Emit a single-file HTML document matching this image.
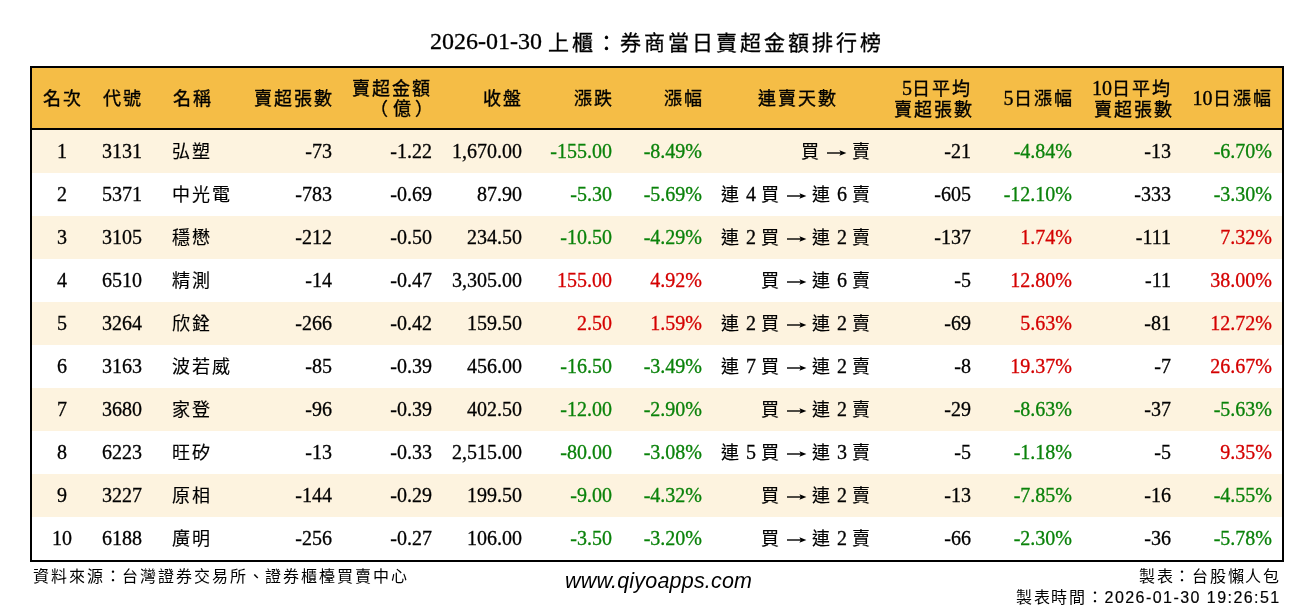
<!DOCTYPE html><html lang="zh-TW"><head><meta charset="utf-8"><title>券商當日賣超金額排行榜</title><style>
*{margin:0;padding:0;box-sizing:border-box}
html,body{width:1314px;height:612px;overflow:hidden;background:#fff}
body{position:relative;font-family:"Liberation Serif",serif;color:#000;text-spacing-trim:space-all}
.t{position:absolute;white-space:nowrap}
#title{position:absolute;left:0;top:24px;width:1314px;text-align:center;font-size:24px;line-height:34px;-webkit-text-stroke:0.3px #000}
#title .k{font-size:21px;letter-spacing:3px;position:relative;top:0.5px}
#tbl{position:absolute;left:30px;top:66px;width:1254px;height:496px;border:2px solid #000;background:#fff}
#hd{position:absolute;left:32px;top:68px;width:1250px;height:60px;background:#f5bd46}
#ov{position:absolute;left:0;top:0;width:1314px;height:612px;will-change:transform}
#hl{position:absolute;left:32px;top:128px;width:1250px;height:2px;background:#000}
.st{position:absolute;left:32px;width:1250px;height:43px;background:#fdf3df}
.c{font-size:20px;line-height:43px;height:43px;-webkit-text-stroke:0.3px currentColor}
.h{font-size:20px;line-height:20px;-webkit-text-stroke:0.35px #000}
.k{font-size:18px;letter-spacing:2px}
.c .k{-webkit-text-stroke:0.15px #000}
.r .k:last-child{margin-right:-2px}
.ar{display:inline-block;vertical-align:1px;margin:0 1px;overflow:visible}
#f1{left:33px;top:567px;font-size:16px;line-height:20px;letter-spacing:1.88px}
#f2{left:565px;top:570px;font-family:"Liberation Sans",sans-serif;font-style:italic;font-size:21.5px;line-height:22px;letter-spacing:0.2px}
#f3{right:35px;top:567px;font-size:16px;line-height:20px;letter-spacing:1.7px;text-align:right}
#f4{right:35px;top:588px;font-size:16px;line-height:20px;letter-spacing:1.7px;text-align:right}
#f3 .x,#f4 .x{margin-right:-1.7px}
.sans{font-family:"Liberation Sans",sans-serif;letter-spacing:1.45px;-webkit-text-stroke:0.2px #000}
</style></head><body>
<div id="tbl"></div><div id="hd"></div><div id="hl"></div>
<div class="st" style="top:130px"></div>
<div class="st" style="top:216px"></div>
<div class="st" style="top:302px"></div>
<div class="st" style="top:388px"></div>
<div class="st" style="top:474px"></div>
<div id="ov">
<div id="title">2026-01-30 <span class="k">上櫃：券商當日賣超金額排行榜</span></div>
<div class="t h" style="top:88px;left:2.5px;width:120px;text-align:center;"><span class="k">名次</span></div>
<div class="t h" style="top:88px;left:62.5px;width:120px;text-align:center;"><span class="k">代號</span></div>
<div class="t h" style="top:88px;left:172.5px;"><span class="k">名稱</span></div>
<div class="t h r" style="top:88px;right:982px;text-align:right;"><span class="k">賣超張數</span></div>
<div class="t h r" style="top:78px;right:882px;text-align:right;"><span class="k">賣超金額</span><br><span class="k" style="letter-spacing:4.3px;margin-right:-5.3px;position:relative;top:-1.5px">（億）</span></div>
<div class="t h r" style="top:88px;right:793.3px;text-align:right;"><span class="k">收盤</span></div>
<div class="t h r" style="top:88px;right:702px;text-align:right;"><span class="k">漲跌</span></div>
<div class="t h r" style="top:88px;right:612.5px;text-align:right;"><span class="k">漲幅</span></div>
<div class="t h" style="top:88px;left:738px;width:120px;text-align:center;"><span class="k">連賣天數</span></div>
<div class="t h r" style="top:78px;right:342px;text-align:right;">5<span class="k">日平均</span><br><span class="k">賣超張數</span></div>
<div class="t h r" style="top:88px;right:242.5px;text-align:right;">5<span class="k">日漲幅</span></div>
<div class="t h r" style="top:78px;right:142px;text-align:right;">10<span class="k">日平均</span><br><span class="k">賣超張數</span></div>
<div class="t h r" style="top:88px;right:43.5px;text-align:right;">10<span class="k">日漲幅</span></div>
<div class="t c" style="top:130px;left:2px;width:120px;text-align:center;">1</div>
<div class="t c" style="top:130px;left:62px;width:120px;text-align:center;">3131</div>
<div class="t c" style="top:130px;left:172px;"><span class="k">弘塑</span></div>
<div class="t c r" style="top:130px;right:982px;text-align:right;">-73</div>
<div class="t c r" style="top:130px;right:882px;text-align:right;">-1.22</div>
<div class="t c r" style="top:130px;right:792px;text-align:right;">1,670.00</div>
<div class="t c r" style="top:130px;right:702px;text-align:right;color:#0a820a;">-155.00</div>
<div class="t c r" style="top:130px;right:612px;text-align:right;color:#0a820a;">-8.49%</div>
<div class="t c r" style="top:130px;right:444px;text-align:right;"><span class="k">買</span> <svg class="ar" width="19" height="8" viewBox="0 0 19 8" overflow="visible"><path d="M0 4H16" stroke="currentColor" stroke-width="1.4"/><path d="M12.4 1.3L19.4 4L12.4 6.7L13.8 4Z" fill="currentColor"/></svg> <span class="k">賣</span></div>
<div class="t c r" style="top:130px;right:343px;text-align:right;">-21</div>
<div class="t c r" style="top:130px;right:242px;text-align:right;color:#0a820a;">-4.84%</div>
<div class="t c r" style="top:130px;right:143px;text-align:right;">-13</div>
<div class="t c r" style="top:130px;right:42px;text-align:right;color:#0a820a;">-6.70%</div>
<div class="t c" style="top:173px;left:2px;width:120px;text-align:center;">2</div>
<div class="t c" style="top:173px;left:62px;width:120px;text-align:center;">5371</div>
<div class="t c" style="top:173px;left:172px;"><span class="k">中光電</span></div>
<div class="t c r" style="top:173px;right:982px;text-align:right;">-783</div>
<div class="t c r" style="top:173px;right:882px;text-align:right;">-0.69</div>
<div class="t c r" style="top:173px;right:792px;text-align:right;">87.90</div>
<div class="t c r" style="top:173px;right:702px;text-align:right;color:#0a820a;">-5.30</div>
<div class="t c r" style="top:173px;right:612px;text-align:right;color:#0a820a;">-5.69%</div>
<div class="t c r" style="top:173px;right:444px;text-align:right;"><span class="k">連</span> 4 <span class="k">買</span> <svg class="ar" width="19" height="8" viewBox="0 0 19 8" overflow="visible"><path d="M0 4H16" stroke="currentColor" stroke-width="1.4"/><path d="M12.4 1.3L19.4 4L12.4 6.7L13.8 4Z" fill="currentColor"/></svg> <span class="k">連</span> 6 <span class="k">賣</span></div>
<div class="t c r" style="top:173px;right:343px;text-align:right;">-605</div>
<div class="t c r" style="top:173px;right:242px;text-align:right;color:#0a820a;">-12.10%</div>
<div class="t c r" style="top:173px;right:143px;text-align:right;">-333</div>
<div class="t c r" style="top:173px;right:42px;text-align:right;color:#0a820a;">-3.30%</div>
<div class="t c" style="top:216px;left:2px;width:120px;text-align:center;">3</div>
<div class="t c" style="top:216px;left:62px;width:120px;text-align:center;">3105</div>
<div class="t c" style="top:216px;left:172px;"><span class="k">穩懋</span></div>
<div class="t c r" style="top:216px;right:982px;text-align:right;">-212</div>
<div class="t c r" style="top:216px;right:882px;text-align:right;">-0.50</div>
<div class="t c r" style="top:216px;right:792px;text-align:right;">234.50</div>
<div class="t c r" style="top:216px;right:702px;text-align:right;color:#0a820a;">-10.50</div>
<div class="t c r" style="top:216px;right:612px;text-align:right;color:#0a820a;">-4.29%</div>
<div class="t c r" style="top:216px;right:444px;text-align:right;"><span class="k">連</span> 2 <span class="k">買</span> <svg class="ar" width="19" height="8" viewBox="0 0 19 8" overflow="visible"><path d="M0 4H16" stroke="currentColor" stroke-width="1.4"/><path d="M12.4 1.3L19.4 4L12.4 6.7L13.8 4Z" fill="currentColor"/></svg> <span class="k">連</span> 2 <span class="k">賣</span></div>
<div class="t c r" style="top:216px;right:343px;text-align:right;">-137</div>
<div class="t c r" style="top:216px;right:242px;text-align:right;color:#d40000;">1.74%</div>
<div class="t c r" style="top:216px;right:143px;text-align:right;">-111</div>
<div class="t c r" style="top:216px;right:42px;text-align:right;color:#d40000;">7.32%</div>
<div class="t c" style="top:259px;left:2px;width:120px;text-align:center;">4</div>
<div class="t c" style="top:259px;left:62px;width:120px;text-align:center;">6510</div>
<div class="t c" style="top:259px;left:172px;"><span class="k">精測</span></div>
<div class="t c r" style="top:259px;right:982px;text-align:right;">-14</div>
<div class="t c r" style="top:259px;right:882px;text-align:right;">-0.47</div>
<div class="t c r" style="top:259px;right:792px;text-align:right;">3,305.00</div>
<div class="t c r" style="top:259px;right:702px;text-align:right;color:#d40000;">155.00</div>
<div class="t c r" style="top:259px;right:612px;text-align:right;color:#d40000;">4.92%</div>
<div class="t c r" style="top:259px;right:444px;text-align:right;"><span class="k">買</span> <svg class="ar" width="19" height="8" viewBox="0 0 19 8" overflow="visible"><path d="M0 4H16" stroke="currentColor" stroke-width="1.4"/><path d="M12.4 1.3L19.4 4L12.4 6.7L13.8 4Z" fill="currentColor"/></svg> <span class="k">連</span> 6 <span class="k">賣</span></div>
<div class="t c r" style="top:259px;right:343px;text-align:right;">-5</div>
<div class="t c r" style="top:259px;right:242px;text-align:right;color:#d40000;">12.80%</div>
<div class="t c r" style="top:259px;right:143px;text-align:right;">-11</div>
<div class="t c r" style="top:259px;right:42px;text-align:right;color:#d40000;">38.00%</div>
<div class="t c" style="top:302px;left:2px;width:120px;text-align:center;">5</div>
<div class="t c" style="top:302px;left:62px;width:120px;text-align:center;">3264</div>
<div class="t c" style="top:302px;left:172px;"><span class="k">欣銓</span></div>
<div class="t c r" style="top:302px;right:982px;text-align:right;">-266</div>
<div class="t c r" style="top:302px;right:882px;text-align:right;">-0.42</div>
<div class="t c r" style="top:302px;right:792px;text-align:right;">159.50</div>
<div class="t c r" style="top:302px;right:702px;text-align:right;color:#d40000;">2.50</div>
<div class="t c r" style="top:302px;right:612px;text-align:right;color:#d40000;">1.59%</div>
<div class="t c r" style="top:302px;right:444px;text-align:right;"><span class="k">連</span> 2 <span class="k">買</span> <svg class="ar" width="19" height="8" viewBox="0 0 19 8" overflow="visible"><path d="M0 4H16" stroke="currentColor" stroke-width="1.4"/><path d="M12.4 1.3L19.4 4L12.4 6.7L13.8 4Z" fill="currentColor"/></svg> <span class="k">連</span> 2 <span class="k">賣</span></div>
<div class="t c r" style="top:302px;right:343px;text-align:right;">-69</div>
<div class="t c r" style="top:302px;right:242px;text-align:right;color:#d40000;">5.63%</div>
<div class="t c r" style="top:302px;right:143px;text-align:right;">-81</div>
<div class="t c r" style="top:302px;right:42px;text-align:right;color:#d40000;">12.72%</div>
<div class="t c" style="top:345px;left:2px;width:120px;text-align:center;">6</div>
<div class="t c" style="top:345px;left:62px;width:120px;text-align:center;">3163</div>
<div class="t c" style="top:345px;left:172px;"><span class="k">波若威</span></div>
<div class="t c r" style="top:345px;right:982px;text-align:right;">-85</div>
<div class="t c r" style="top:345px;right:882px;text-align:right;">-0.39</div>
<div class="t c r" style="top:345px;right:792px;text-align:right;">456.00</div>
<div class="t c r" style="top:345px;right:702px;text-align:right;color:#0a820a;">-16.50</div>
<div class="t c r" style="top:345px;right:612px;text-align:right;color:#0a820a;">-3.49%</div>
<div class="t c r" style="top:345px;right:444px;text-align:right;"><span class="k">連</span> 7 <span class="k">買</span> <svg class="ar" width="19" height="8" viewBox="0 0 19 8" overflow="visible"><path d="M0 4H16" stroke="currentColor" stroke-width="1.4"/><path d="M12.4 1.3L19.4 4L12.4 6.7L13.8 4Z" fill="currentColor"/></svg> <span class="k">連</span> 2 <span class="k">賣</span></div>
<div class="t c r" style="top:345px;right:343px;text-align:right;">-8</div>
<div class="t c r" style="top:345px;right:242px;text-align:right;color:#d40000;">19.37%</div>
<div class="t c r" style="top:345px;right:143px;text-align:right;">-7</div>
<div class="t c r" style="top:345px;right:42px;text-align:right;color:#d40000;">26.67%</div>
<div class="t c" style="top:388px;left:2px;width:120px;text-align:center;">7</div>
<div class="t c" style="top:388px;left:62px;width:120px;text-align:center;">3680</div>
<div class="t c" style="top:388px;left:172px;"><span class="k">家登</span></div>
<div class="t c r" style="top:388px;right:982px;text-align:right;">-96</div>
<div class="t c r" style="top:388px;right:882px;text-align:right;">-0.39</div>
<div class="t c r" style="top:388px;right:792px;text-align:right;">402.50</div>
<div class="t c r" style="top:388px;right:702px;text-align:right;color:#0a820a;">-12.00</div>
<div class="t c r" style="top:388px;right:612px;text-align:right;color:#0a820a;">-2.90%</div>
<div class="t c r" style="top:388px;right:444px;text-align:right;"><span class="k">買</span> <svg class="ar" width="19" height="8" viewBox="0 0 19 8" overflow="visible"><path d="M0 4H16" stroke="currentColor" stroke-width="1.4"/><path d="M12.4 1.3L19.4 4L12.4 6.7L13.8 4Z" fill="currentColor"/></svg> <span class="k">連</span> 2 <span class="k">賣</span></div>
<div class="t c r" style="top:388px;right:343px;text-align:right;">-29</div>
<div class="t c r" style="top:388px;right:242px;text-align:right;color:#0a820a;">-8.63%</div>
<div class="t c r" style="top:388px;right:143px;text-align:right;">-37</div>
<div class="t c r" style="top:388px;right:42px;text-align:right;color:#0a820a;">-5.63%</div>
<div class="t c" style="top:431px;left:2px;width:120px;text-align:center;">8</div>
<div class="t c" style="top:431px;left:62px;width:120px;text-align:center;">6223</div>
<div class="t c" style="top:431px;left:172px;"><span class="k">旺矽</span></div>
<div class="t c r" style="top:431px;right:982px;text-align:right;">-13</div>
<div class="t c r" style="top:431px;right:882px;text-align:right;">-0.33</div>
<div class="t c r" style="top:431px;right:792px;text-align:right;">2,515.00</div>
<div class="t c r" style="top:431px;right:702px;text-align:right;color:#0a820a;">-80.00</div>
<div class="t c r" style="top:431px;right:612px;text-align:right;color:#0a820a;">-3.08%</div>
<div class="t c r" style="top:431px;right:444px;text-align:right;"><span class="k">連</span> 5 <span class="k">買</span> <svg class="ar" width="19" height="8" viewBox="0 0 19 8" overflow="visible"><path d="M0 4H16" stroke="currentColor" stroke-width="1.4"/><path d="M12.4 1.3L19.4 4L12.4 6.7L13.8 4Z" fill="currentColor"/></svg> <span class="k">連</span> 3 <span class="k">賣</span></div>
<div class="t c r" style="top:431px;right:343px;text-align:right;">-5</div>
<div class="t c r" style="top:431px;right:242px;text-align:right;color:#0a820a;">-1.18%</div>
<div class="t c r" style="top:431px;right:143px;text-align:right;">-5</div>
<div class="t c r" style="top:431px;right:42px;text-align:right;color:#d40000;">9.35%</div>
<div class="t c" style="top:474px;left:2px;width:120px;text-align:center;">9</div>
<div class="t c" style="top:474px;left:62px;width:120px;text-align:center;">3227</div>
<div class="t c" style="top:474px;left:172px;"><span class="k">原相</span></div>
<div class="t c r" style="top:474px;right:982px;text-align:right;">-144</div>
<div class="t c r" style="top:474px;right:882px;text-align:right;">-0.29</div>
<div class="t c r" style="top:474px;right:792px;text-align:right;">199.50</div>
<div class="t c r" style="top:474px;right:702px;text-align:right;color:#0a820a;">-9.00</div>
<div class="t c r" style="top:474px;right:612px;text-align:right;color:#0a820a;">-4.32%</div>
<div class="t c r" style="top:474px;right:444px;text-align:right;"><span class="k">買</span> <svg class="ar" width="19" height="8" viewBox="0 0 19 8" overflow="visible"><path d="M0 4H16" stroke="currentColor" stroke-width="1.4"/><path d="M12.4 1.3L19.4 4L12.4 6.7L13.8 4Z" fill="currentColor"/></svg> <span class="k">連</span> 2 <span class="k">賣</span></div>
<div class="t c r" style="top:474px;right:343px;text-align:right;">-13</div>
<div class="t c r" style="top:474px;right:242px;text-align:right;color:#0a820a;">-7.85%</div>
<div class="t c r" style="top:474px;right:143px;text-align:right;">-16</div>
<div class="t c r" style="top:474px;right:42px;text-align:right;color:#0a820a;">-4.55%</div>
<div class="t c" style="top:517px;left:2px;width:120px;text-align:center;">10</div>
<div class="t c" style="top:517px;left:62px;width:120px;text-align:center;">6188</div>
<div class="t c" style="top:517px;left:172px;"><span class="k">廣明</span></div>
<div class="t c r" style="top:517px;right:982px;text-align:right;">-256</div>
<div class="t c r" style="top:517px;right:882px;text-align:right;">-0.27</div>
<div class="t c r" style="top:517px;right:792px;text-align:right;">106.00</div>
<div class="t c r" style="top:517px;right:702px;text-align:right;color:#0a820a;">-3.50</div>
<div class="t c r" style="top:517px;right:612px;text-align:right;color:#0a820a;">-3.20%</div>
<div class="t c r" style="top:517px;right:444px;text-align:right;"><span class="k">買</span> <svg class="ar" width="19" height="8" viewBox="0 0 19 8" overflow="visible"><path d="M0 4H16" stroke="currentColor" stroke-width="1.4"/><path d="M12.4 1.3L19.4 4L12.4 6.7L13.8 4Z" fill="currentColor"/></svg> <span class="k">連</span> 2 <span class="k">賣</span></div>
<div class="t c r" style="top:517px;right:343px;text-align:right;">-66</div>
<div class="t c r" style="top:517px;right:242px;text-align:right;color:#0a820a;">-2.30%</div>
<div class="t c r" style="top:517px;right:143px;text-align:right;">-36</div>
<div class="t c r" style="top:517px;right:42px;text-align:right;color:#0a820a;">-5.78%</div>
<div class="t" id="f1">資料來源：台灣證券交易所、證券櫃檯買賣中心</div>
<div class="t" id="f2">www.qiyoapps.com</div>
<div class="t" id="f3"><span class="x">製表：台股懶人包</span></div>
<div class="t" id="f4">製表時間：<span class="sans x">2026-01-30 19:26:51</span></div>
</div>
</body></html>
